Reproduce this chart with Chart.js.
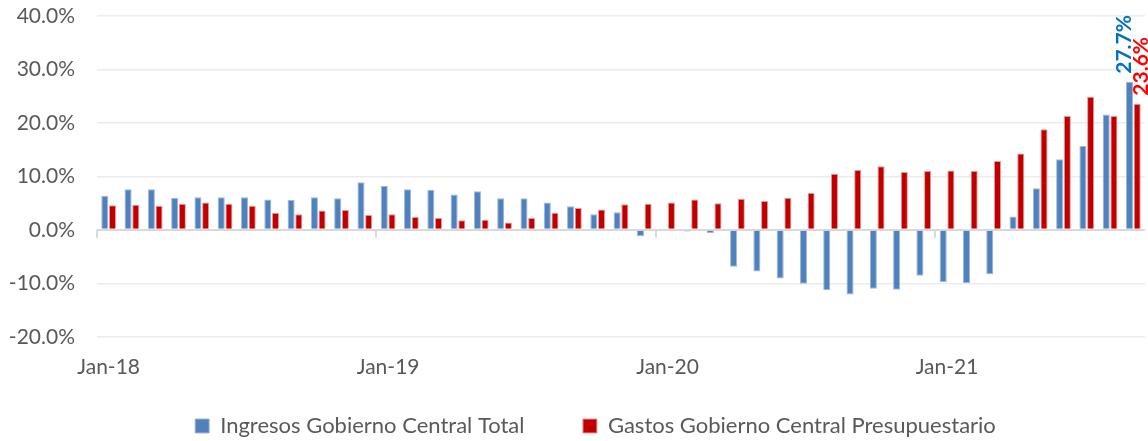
<!DOCTYPE html>
<html>
<head>
<meta charset="utf-8">
<script src="https://cdn.jsdelivr.net/npm/chart.js@4"></script>
<style>
  html, body { margin: 0; padding: 0; background: #fff; }
  #wrap { width: 1148px; height: 441px; }
</style>
</head>
<body>
<div id="wrap"><canvas id="myChart"></canvas></div>
<script>
// ------------------------------DATA------------------------------
var months = ["Jan-18", "Feb-18", "Mar-18", "Apr-18", "May-18", "Jun-18", "Jul-18", "Aug-18", "Sep-18", "Oct-18", "Nov-18", "Dec-18",
  "Jan-19", "Feb-19", "Mar-19", "Apr-19", "May-19", "Jun-19", "Jul-19", "Aug-19", "Sep-19", "Oct-19", "Nov-19", "Dec-19",
  "Jan-20", "Feb-20", "Mar-20", "Apr-20", "May-20", "Jun-20", "Jul-20", "Aug-20", "Sep-20", "Oct-20", "Nov-20", "Dec-20",
  "Jan-21", "Feb-21", "Mar-21", "Apr-21", "May-21", "Jun-21", "Jul-21", "Aug-21", "Sep-21"];

var ingresos = [6.4, 7.6, 7.6, 6.0, 6.1, 6.1, 6.1, 5.7, 5.6, 6.1, 5.9, 8.9,
  8.2, 7.6, 7.5, 6.6, 7.2, 5.9, 5.9, 5.1, 4.4, 2.9, 3.3, -1.2,
  0.0, -0.3, -0.6, -6.9, -7.8, -9.1, -10.1, -11.3, -12.1, -11.0, -11.2, -8.6,
  -9.8, -10.0, -8.3, 2.5, 7.8, 13.2, 15.7, 21.6, 27.7];

var gastos = [4.6, 4.7, 4.5, 4.9, 5.1, 4.9, 4.5, 3.2, 2.9, 3.6, 3.7, 2.8,
  2.9, 2.4, 2.2, 1.8, 1.9, 1.4, 2.2, 3.2, 4.1, 3.8, 4.8, 4.9,
  5.1, 5.7, 5.0, 5.8, 5.4, 6.0, 6.9, 10.5, 11.2, 11.9, 10.8, 11.0,
  11.1, 11.0, 12.9, 14.3, 18.8, 21.3, 24.9, 21.3, 23.6];

var seriesNames = ["Ingresos Gobierno Central Total", "Gastos Gobierno Central Presupuestario"];
var yTicks = [-20, -10, 0, 10, 20, 30, 40];

// ------------------------------PLUGINS------------------------------
// small ticks on the zero line at every January
var yearTicks = {
  id: "yearTicks",
  afterDatasetsDraw: function (chart) {
    var x = chart.scales.x, y = chart.scales.y, ctx = chart.ctx;
    var half = (x.getPixelForValue(1) - x.getPixelForValue(0)) / 2;
    var y0 = y.getPixelForValue(0);
    ctx.save();
    ctx.strokeStyle = "#d9d9d9";
    ctx.lineWidth = 2;
    for (var i = 0; i < months.length; i += 12) {
      var px = Math.round(x.getPixelForValue(i) - half);
      ctx.beginPath();
      ctx.moveTo(px, y0);
      ctx.lineTo(px, y0 + 8);
      ctx.stroke();
    }
    ctx.restore();
  }
};

// rotated value labels on the last month
var lastLabels = {
  id: "lastLabels",
  afterDatasetsDraw: function (chart) {
    var ctx = chart.ctx;
    var last = months.length - 1;
    var cols = ["#0070C0", "#FF0000"];
    var offs = [-5, 4];
    ctx.save();
    ctx.font = "bold 21px Lato";
    ctx.textAlign = "left";
    ctx.textBaseline = "middle";
    [0, 1].forEach(function (d) {
      var el = chart.getDatasetMeta(d).data[last];
      var val = chart.data.datasets[d].data[last];
      ctx.save();
      ctx.translate(el.x + offs[d], el.y - 8);
      ctx.rotate(-Math.PI / 2);
      ctx.fillStyle = cols[d];
      ctx.fillText(val.toFixed(1) + "%", 0, 0);
      ctx.restore();
    });
    ctx.restore();
  }
};

// nudge the legend a little right and down, like the original
var legendShift = {
  id: "legendShift",
  afterLayout: function (chart) {
    var lg = chart.legend;
    lg.left += 23; lg.right += 23;
    lg.top += 6; lg.bottom += 6;
  }
};

// ------------------------------BAR-CHART------------------------------
new Chart("myChart", {
  type: "bar",
  data: {
    labels: months,
    datasets: [{
      label: seriesNames[0],
      data: ingresos,
      backgroundColor: "#4F81BD",
      borderColor: "#9db8dc",
      borderWidth: 1
    }, {
      label: seriesNames[1],
      data: gastos,
      backgroundColor: "#C00000",
      borderColor: "#e39a9a",
      borderWidth: 1
    }]
  },
  plugins: [yearTicks, lastLabels, legendShift],
  options: {
    responsive: true,
    maintainAspectRatio: false,
    animation: false,
    categoryPercentage: 0.66,
    barPercentage: 0.92,
    layout: { padding: { top: 0, right: 3, left: 0, bottom: 0 } },
    scales: {
      x: {
        grid: { display: false },
        border: { display: false },
        afterFit: function (s) { s.paddingLeft = 0; s.paddingRight = 0; },
        ticks: {
          autoSkip: false,
          maxRotation: 0,
          padding: 10,
          color: "#595959",
          font: { family: "Lato", size: 21 },
          callback: function (v, i) { return i % 12 === 0 ? months[i] : null; }
        }
      },
      y: {
        min: -20,
        max: 40,
        afterBuildTicks: function (s) { s.ticks = yTicks.map(function (v) { return { value: v }; }); },
        afterFit: function (s) { s.width = 97; s.paddingTop = 16; s.paddingBottom = 0; },
        border: { display: false },
        grid: {
          drawTicks: false,
          color: function (c) { return c.tick && c.tick.value === 0 ? "#d9d9d9" : "#ececec"; },
          lineWidth: function (c) { return c.tick && c.tick.value === 0 ? 2 : 1.5; }
        },
        ticks: {
          padding: 22,
          color: "#595959",
          font: { family: "Lato", size: 21 },
          callback: function (v) { return v.toFixed(1) + "%"; }
        }
      }
    },
    plugins: {
      legend: {
        position: "bottom",
        labels: {
          boxWidth: 14,
          boxHeight: 14,
          padding: 19,
          color: "#595959",
          font: { family: "Lato", size: 22 },
          generateLabels: function (chart) {
            var items = Chart.defaults.plugins.legend.labels.generateLabels(chart);
            // wider gap after the first item, as in the original
            items[0].text = items[0].text + "\u00a0\u00a0\u00a0\u00a0\u00a0\u00a0\u00a0";
            return items;
          }
        }
      },
      tooltip: { enabled: false }
    }
  }
});
</script>
</body>
</html>
